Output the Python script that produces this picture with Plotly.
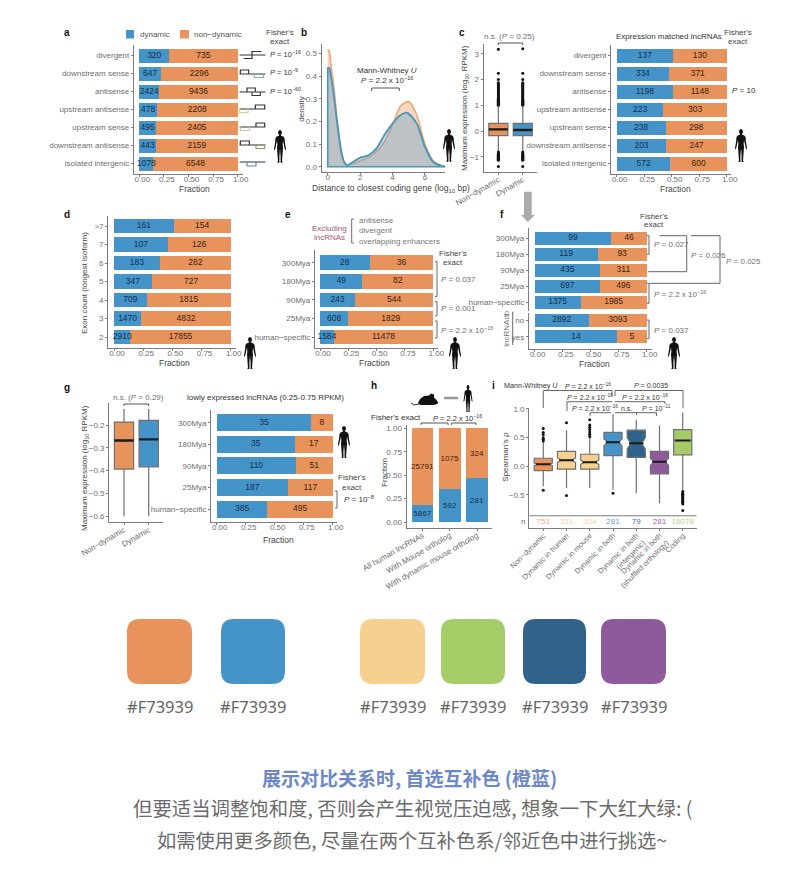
import plotly.graph_objects as go

W, H = 800, 870
ORANGE = "#E8935C"
BLUE = "#4494CA"
WHEAT = "#F6D08F"
GREEN = "#A6CC68"
NAVY = "#2F6389"
PURPLE = "#8F5A9C"
GREY = "#6e6e6e"
AXIS = "#7c7c7c"
SANS = "Liberation Sans, Arial, sans-serif"
CJK = "Noto Sans CJK SC, sans-serif"

# ---------------- data ----------------
a_cats = ["divergent", "downstream sense", "antisense", "upstream antisense", "upstream sense",
          "downstream antisense", "isolated intergenic"]
a_dyn = [320, 647, 2424, 478, 495, 443, 1078]
a_non = [735, 2296, 9436, 2208, 2405, 2159, 6548]

c_dyn = [137, 334, 1198, 223, 238, 203, 572]
c_non = [130, 371, 1148, 303, 298, 247, 600]

d_cats = [">7", "7", "6", "5", "4", "3", "2"]
d_dyn = [161, 107, 183, 347, 709, 1470, 2910]
d_non = [154, 126, 282, 727, 1815, 4832, 17855]

e_cats = ["300Mya", "180Mya", "90Mya", "25Mya", "human\u2212specific"]
e_dyn = [28, 49, 243, 608, 1584]
e_non = [36, 82, 544, 1829, 11478]

f_dyn = [99, 119, 435, 697, 1375]
f_non = [46, 93, 311, 496, 1985]
f2_cats = ["no", "yes"]
f2_dyn = [2892, 14]
f2_non = [3093, 5]

g_dyn = [35, 35, 110, 187, 385]
g_non = [8, 17, 51, 117, 495]

h_cats = ["All human lncRNAs", "With Mouse ortholog", "With dynamic mouse ortholog"]
h_dyn = [5867, 592, 281]
h_non = [25791, 1075, 324]

b_x_non = [0, 0.1, 0.2, 0.4, 0.6, 0.8, 1.0, 1.2, 1.5, 2, 2.5, 3, 3.5, 4, 4.5, 5, 5.5, 6, 6.5, 7, 7.3]
b_y_non = [0.518, 0.507, 0.45, 0.34, 0.19, 0.09, 0.025, 0.007, 0.012, 0.026, 0.04, 0.066, 0.11, 0.184,
           0.268, 0.287, 0.228, 0.10, 0.026, 0.006, 0.0]
b_x_dyn = [0, 0.1, 0.2, 0.4, 0.6, 0.8, 1.0, 1.2, 1.5, 2, 2.5, 3, 3.5, 4, 4.5, 4.9, 5.5, 6, 6.5, 7, 7.3]
b_y_dyn = [0.438, 0.434, 0.397, 0.30, 0.184, 0.08, 0.022, 0.006, 0.018, 0.04, 0.05, 0.08, 0.14, 0.19,
           0.228, 0.238, 0.19, 0.088, 0.022, 0.003, 0.0]

c_box_labels = ["Non\u2212dynamic", "Dynamic"]
c_q1 = [-0.18, -0.18]
c_med = [0.065, 0.04]
c_q3 = [0.30, 0.30]
c_lo = [-0.8, -0.8]
c_hi = [0.95, 0.95]
c_out_non = [3.18, 2.25, 2.0, 1.88, 1.84, 1.8, 1.76, 1.72, 1.68, 1.64, 1.6, 1.56, 1.52, 1.48, 1.44, 1.4, 1.36,
             1.32, 1.28, 1.24, 1.2, 1.16, 1.12, 1.08, 1.04, 1.0, -0.82, -0.86, -0.9, -0.94, -0.98, -1.02, -1.06,
             -1.1, -1.14, -1.38]
c_out_dyn = [3.2, 2.25, 2.0, 1.88, 1.84, 1.8, 1.76, 1.72, 1.68, 1.64, 1.6, 1.56, 1.52, 1.48, 1.44, 1.4, 1.36,
             1.32, 1.28, 1.24, 1.2, 1.16, 1.12, 1.08, 1.04, 1.0, -0.82, -0.86, -0.9, -0.94, -0.98, -1.02, -1.06,
             -1.1, -1.14, -1.38]

g_q1 = [-0.393, -0.383]
g_med = [-0.268, -0.263]
g_q3 = [-0.187, -0.18]
g_lo = [-0.6, -0.6]
g_hi = [-0.13, -0.13]

i_labels = ["Non\u2212dynamic", "Dynamic in human", "Dynamic in mouse", "Dynamic in both",
            "Dynamic in both<br>(intergenic)", "Dynamic in both<br>(shuffled orthology)", "Coding"]
i_q1 = [-0.075, -0.05, -0.05, 0.185, 0.157, -0.134, 0.2]
i_med = [0.035, 0.105, 0.07, 0.42, 0.40, 0.08, 0.45]
i_q3 = [0.14, 0.26, 0.21, 0.59, 0.63, 0.26, 0.64]
i_lo = [-0.35, -0.38, -0.38, -0.41, -0.47, -0.645, -0.41]
i_hi = [0.42, 0.63, 0.5, 0.91, 0.81, 0.71, 0.94]
i_notch = [0.02, 0.04, 0.035, 0.06, 0.1, 0.06, 0.01]
i_out = [[0.66, 0.59, 0.55, 0.5, 0.47, 0.44, -0.42],
         [0.76, -0.51],
         [0.81, 0.72, 0.68, 0.64, 0.6, 0.56, 0.52],
         [-0.47],
         [],
         [],
         [-0.44, -0.47, -0.49, -0.51, -0.53, -0.55, -0.57, -0.59, -0.61, -0.63, -0.66, -0.77]]
i_n = ["751", "311", "324", "281", "79", "281", "16078"]
i_ncolors = ["#E3AE88", "#EBD49D", "#EBD49D", "#5E9FC6", "#3F6E92", "#8F6A9C", "#B4D482"]

swatch_colors = [ORANGE, BLUE, WHEAT, GREEN, NAVY, PURPLE]
swatch_text = ["#F73939"] * 6

# ---------------- helpers ----------------
fig = go.Figure()
layout = {}
shapes = []
anns = []
counter = [0]


def px(x):
    return x / W


def py(y):
    return 1 - y / H


def axes(left, right, top, bottom):
    counter[0] += 1
    n = counter[0]
    suf = "" if n == 1 else str(n)
    base = dict(showline=True, linecolor=AXIS, linewidth=1.3, ticks="outside", ticklen=2, tickwidth=0.8, automargin=False,
                tickcolor=AXIS, showgrid=False, zeroline=False, tickfont=dict(family=SANS, size=8, color=GREY))
    layout["xaxis" + suf] = dict(base, domain=[px(left), px(right)], anchor="y" + suf, ticklabelstandoff=-3)
    layout["yaxis" + suf] = dict(base, domain=[py(bottom), py(top)], anchor="x" + suf)
    return "x" + suf, "y" + suf, "xaxis" + suf, "yaxis" + suf


def text(x, y, s, size=8, color=GREY, anchor="center", angle=0, family=SANS):
    anns.append(dict(xref="paper", yref="paper", x=px(x), y=py(y), text=s, showarrow=False, xanchor=anchor,
                     yanchor="middle", textangle=angle, font=dict(family=family, size=size, color=color)))


def poly(pts, color="#555555", width=1.0, closed=False, fill=None):
    d = "M " + " L ".join(f"{px(a):.5f},{py(b):.5f}" for a, b in pts)
    if closed:
        d += " Z"
    s = dict(type="path", xref="paper", yref="paper", path=d, line=dict(color=color, width=width))
    if fill:
        s["fillcolor"] = fill
        s["line"] = dict(width=0)
    shapes.append(s)


def rrect(x0, y0, x1, y1, r, color):
    d = (f"M {px(x0+r)},{py(y0)} L {px(x1-r)},{py(y0)} Q {px(x1)},{py(y0)} {px(x1)},{py(y0+r)} "
         f"L {px(x1)},{py(y1-r)} Q {px(x1)},{py(y1)} {px(x1-r)},{py(y1)} L {px(x0+r)},{py(y1)} "
         f"Q {px(x0)},{py(y1)} {px(x0)},{py(y1-r)} L {px(x0)},{py(y0+r)} Q {px(x0)},{py(y0)} {px(x0+r)},{py(y0)} Z")
    shapes.append(dict(type="path", xref="paper", yref="paper", path=d, fillcolor=color, line=dict(width=0)))


HALF = [(0.07, 0.15), (0.10, 0.175), (0.28, 0.20), (0.38, 0.25), (0.41, 0.38), (0.50, 0.58), (0.47, 0.63),
        (0.40, 0.58), (0.29, 0.40), (0.25, 0.33), (0.22, 0.45), (0.25, 0.55), (0.21, 0.75), (0.17, 0.95),
        (0.22, 1.0), (0.05, 1.0), (0.05, 0.8), (0.0, 0.58)]


def human(cx, top, bottom, width=12):
    h = bottom - top
    right = [(cx + u * width, top + v * h) for u, v in HALF]
    left = [(cx - u * width, top + v * h) for u, v in reversed(HALF)]
    poly(right + left[1:], closed=True, fill="#111111")
    rx, ry = 0.16 * width, 0.08 * h
    cy = top + ry
    shapes.append(dict(type="circle", xref="paper", yref="paper", x0=px(cx - rx), x1=px(cx + rx), y0=py(cy + ry),
                       y1=py(cy - ry), fillcolor="#111111", line=dict(width=0)))


def hbars(x0, x1, axl, axr, top, bottom, c0, step, cats, dyn, non, barpx, title_xy=None, shift=3):
    xa, ya, xk, yk = axes(axl, axr, top, bottom)
    unit = x1 - x0
    idx = list(range(len(cats)))
    w = barpx / abs(step)
    for vals, col in ((dyn, BLUE), (non, ORANGE)):
        fig.add_trace(go.Bar(y=idx, x=vals, orientation="h", width=w, marker=dict(color=col, line=dict(width=0)),
                             hoverinfo="skip", xaxis=xa, yaxis=ya))
    # counts sit on top of both bars so that wide numbers in narrow bars stay readable
    fr = [d / (d + n) for d, n in zip(dyn, non)]
    fig.add_trace(go.Scatter(x=[f / 2 for f in fr], y=idx, mode="text", text=[str(v) for v in dyn], cliponaxis=False,
                             textfont=dict(family=SANS, size=8.5, color="#14304a"), hoverinfo="skip", xaxis=xa, yaxis=ya))
    fig.add_trace(go.Scatter(x=[(1 + f) / 2 for f in fr], y=idx, mode="text", text=[str(v) for v in non], cliponaxis=False,
                             textfont=dict(family=SANS, size=8.5, color="#3a1f0e"), hoverinfo="skip", xaxis=xa, yaxis=ya))
    layout[xk].update(range=[(axl - x0) / unit, (axr - x0) / unit], tickvals=[0, 0.25, 0.5, 0.75, 1],
                      ticktext=["0.00", "0.25", "0.50", "0.75", "1.00"], ticklabelshift=shift, ticklabelstandoff=-5)
    layout[yk].update(range=[(bottom - c0) / step, (top - c0) / step], tickvals=idx, ticktext=cats)
    if title_xy:
        text(title_xy[0], title_xy[1], "Fraction", 8.5, "#444444")
    else:
        layout[xk].update(showline=False, ticks="", showticklabels=False)
    return xk, yk


def boxes(xa, ya, positions, q1, med, q3, lo, hi, colors, width, outliers=None, notch=None, mw=1.2):
    for k, pos in enumerate(positions):
        kw = {}
        if notch:
            kw = dict(notched=True, notchspan=[notch[k]], notchwidth=0.2)
        if outliers:
            kw.update(y=[outliers[k] or [med[k]]], boxpoints="outliers")
        else:
            kw.update(boxpoints=False)
        fig.add_trace(go.Box(x=[pos], q1=[q1[k]], median=[med[k]], q3=[q3[k]], lowerfence=[lo[k]], upperfence=[hi[k]],
                             width=width, whiskerwidth=0, fillcolor=colors[k], line=dict(color="#6f6f6f", width=1.2),
                             marker=dict(color="#111111", size=3, line=dict(width=0)), hoverinfo="skip",
                             xaxis=xa, yaxis=ya, **kw))
    mx, my = [], []
    for k, pos in enumerate(positions):
        half = width / 2 - (0.0 if not notch else width * 0.1)
        mx += [pos - half, pos + half, None]
        my += [med[k], med[k], None]
    fig.add_trace(go.Scatter(x=mx, y=my, mode="lines", line=dict(color="#1b1b1b", width=mw), hoverinfo="skip",
                             xaxis=xa, yaxis=ya))


def bracket_right(x, y0, y1, color="#666666"):
    poly([(x - 2, y0), (x, y0), (x, y1), (x - 2, y1)], color=color, width=1)


def pval(x, y, body, size=8, color=GREY):
    text(x, y, "<i>P</i> = " + body, size=size, color=color, anchor="left")


# ---------------- panel a ----------------
ROWS_A = dict(c0=55.5, step=18)
hbars(139.3, 237.7, 134, 243, 45, 174, cats=a_cats, dyn=a_dyn, non=a_non, barpx=14, title_xy=(194, 188.5), **ROWS_A)
text(66.7, 32.7, "<b>a</b>", 10, "#111111")
rrect(126, 30, 134, 38.5, 0, BLUE)
rrect(180, 30, 189, 38.5, 0, ORANGE)
text(137.7, 34, "dynamic", 8, "#555555", "left")
text(192, 34, "non\u2212dynamic", 8, "#555555", "left")
text(280, 32, "Fisher's", 8, "#444444")
text(280, 41.5, "exact", 8, "#444444")
step_rows = [
    (55, (35, 60, 64, 88), "#333333", "#333333"),
    (74, (25, 50, 67, 95), "#333333", "#7fb0b8"),
    (92, (45, 70, 60, 85), "#333333", "#333333"),
    (109, (70, 98, 22, 48), "#333333", "#c9d98a"),
    (127, (72, 98, 25, 52), "#333333", "#d8c08c"),
    (145, (25, 52, 72, 98), "#333333", "#8e9a55"),
    (162, None, "#333333", "#4f86b4"),
]
for y, seg, c1, c2 in step_rows:
    poly([(239.5, y), (265.5, y)], "#333333", 1)
    if seg:
        a0, a1, b0, b1 = seg
        if y == 55:
            poly([(232 + a0 / 3, y + 3.5), (232 + a1 / 3, y + 3.5), (232 + a1 / 3, y - 3.5), (232 + b1 / 3, y - 3.5)], c1, 1.2)
        else:
            poly([(232 + a0 / 3, y), (232 + a0 / 3, y - 4), (232 + a1 / 3, y - 4), (232 + a1 / 3, y)], c1, 1.2)
            poly([(232 + b0 / 3, y), (232 + b0 / 3, y + 3.5), (232 + b1 / 3, y + 3.5), (232 + b1 / 3, y)], c2, 1.1)
    else:
        poly([(247, y), (247, y + 4), (256, y + 4), (256, y)], c2, 1.1)
for y, s in ((53.5, "10<sup>\u221216</sup>"), (72, "10<sup>\u22129</sup>"), (91, "10<sup>\u221260</sup>")):
    pval(268, y, s, 7.5, "#333333")
human(280, 130, 162.7)

# ---------------- panel b ----------------
xa, ya, xk, yk = axes(321.7, 445, 44, 172)
fig.add_trace(go.Scatter(x=b_x_non, y=b_y_non, mode="lines", line=dict(color="#EBA873", width=1.6, shape="spline", smoothing=0.7),
                         fill="tozeroy", fillcolor="rgba(232,150,95,0.38)", hoverinfo="skip", xaxis=xa, yaxis=ya))
fig.add_trace(go.Scatter(x=b_x_dyn, y=b_y_dyn, mode="lines", line=dict(color="#4C97B8", width=1.9, shape="spline", smoothing=0.7),
                         fill="tozeroy", fillcolor="rgba(110,165,200,0.42)", hoverinfo="skip", xaxis=xa, yaxis=ya))
fig.add_trace(go.Scatter(x=[b_x_dyn[0], b_x_dyn[0], b_x_dyn[-1]], y=[b_y_dyn[0], 0, 0], mode="lines",
                         line=dict(color="#4C97B8", width=1.6), hoverinfo="skip", xaxis=xa, yaxis=ya))
layout[xk].update(range=[(321.7 - 327.7) / 16.2, (445 - 327.7) / 16.2], tickvals=[0, 2, 4, 6], ticklabelstandoff=-5)
layout[yk].update(range=[(166.7 - 172) / 226.7, (166.7 - 44) / 226.7], tickvals=[0, 0.1, 0.2, 0.3, 0.4, 0.5], tickformat=".1f")
text(391, 188.5, "Distance to closest coding gene (log<sub>10</sub> bp)", 8.5, "#444444")
text(301.7, 109, "density", 8, "#444444", angle=-90)
text(304, 32.7, "<b>b</b>", 10, "#111111")
text(386.7, 71, "Mann-Whitney <i>U</i>", 8, "#333333")
text(386.7, 80, "<i>P</i> = 2.2 x 10<sup>\u221216</sup>", 8, "#333333")
poly([(371.7, 91), (371.7, 88), (399.3, 88), (399.3, 91)], "#555555", 1)
human(449, 129, 161.7)

# ---------------- panel c ----------------
xa, ya, xk, yk = axes(483.7, 536.7, 44, 172)
boxes(xa, ya, [1, 2], c_q1, c_med, c_q3, c_lo, c_hi, [ORANGE, BLUE], 0.78, [c_out_non, c_out_dyn], mw=2.4)
layout[xk].update(range=[0.4, 2.57], tickvals=[1, 2], ticktext=c_box_labels, tickangle=-30)
layout[yk].update(range=[-1.595, 3.385], tickvals=[-1, 0, 1, 2, 3], ticktext=["\u22121", "0", "1", "2", "3"])
text(465, 108, "Maximum expression (log<sub>10</sub> RPKM)", 8, "#444444", angle=-90)
text(461.7, 32.7, "<b>c</b>", 10, "#111111")
text(510, 36.7, "n.s. (<i>P</i> = 0.25)", 8, GREY)
poly([(498.3, 45), (498.3, 43), (522.7, 43), (522.7, 45)], "#555555", 1)

hbars(616.7, 726.7, 611.3, 731, 45, 174, cats=a_cats, dyn=c_dyn, non=c_non, barpx=14, title_xy=(675, 188.5), **ROWS_A)
text(669, 36.7, "Expression matched lncRNAs", 8, "#333333")
text(738, 33, "Fisher's", 8, "#444444")
text(738, 42, "exact", 8, "#444444")
pval(730, 91, "10", 8, "#333333")
human(741, 129, 162)

# grey arrow
poly([(524, 191.7), (531.7, 191.7), (531.7, 215), (535, 215), (527.8, 222), (521, 215), (524, 215)], closed=True, fill="#ABABAB")

# ---------------- panel d ----------------
hbars(114, 230.7, 108.3, 235.5, 215.7, 348.3, 226, 18.5, d_cats, d_dyn, d_non, 14.5, title_xy=(174, 362.5))
text(85, 283, "Exon count (longest isoform)", 8, "#444444", angle=-90)
text(67, 214, "<b>d</b>", 10, "#111111")
human(250, 337, 369)

# ---------------- panel e ----------------
hbars(320, 433.3, 315, 438, 250, 348.3, 262.7, 18.6, e_cats, e_dyn, e_non, 14.5, title_xy=(374, 362.5))
text(288, 214, "<b>e</b>", 10, "#111111")
text(329, 228, "Excluding", 8, "#A4507A")
text(329, 237.5, "lncRNAs", 8, "#A4507A")
poly([(354, 219), (351.7, 219), (351.7, 243), (354, 243)], "#A4507A", 1)
for y, s in ((220, "antisense"), (230.5, "divergent"), (241, "overlapping enhancers")):
    text(357, y, s, 8, "#777777", "left")
text(453, 253, "Fisher's", 8, "#444444")
text(453, 262.5, "exact", 8, "#444444")
bracket_right(437, 261.7, 296.7)
bracket_right(437, 301.7, 315.7)
bracket_right(437, 321, 338)
pval(439.5, 279, "0.037")
pval(439.5, 309, "0.001")
pval(439.5, 330, "2.2 x 10<sup>\u221216</sup>")
human(455, 337, 369)

# ---------------- panel f ----------------
hbars(534.7, 646.7, 529, 651.7, 228.3, 310.5, 238.3, 16, e_cats, f_dyn, f_non, 12.8)
hbars(534.7, 646.7, 529, 651.7, 312.5, 349, 320.3, 16.4, f2_cats, f2_dyn, f2_non, 12.8, title_xy=(594, 364))
text(502, 214, "<b>f</b>", 10, "#111111")
text(653.7, 216, "Fisher's", 8, "#444444")
text(653.7, 225, "exact", 8, "#444444")
bracket_right(649, 235.7, 254.3)
pval(651.7, 245, "0.027")
poly([(659.3, 235.7), (686.7, 235.7), (686.7, 271.7), (648.3, 271.7)], "#666666", 1)
pval(688.5, 255, "0.026")
poly([(691, 235.7), (720, 235.7), (720, 283.3), (647, 283.3)], "#666666", 1)
pval(724, 261.7, "0.025")
poly([(649, 283.3), (649, 303.3), (647, 303.3)], "#666666", 1)
pval(651.7, 294.3, "2.2 x 10<sup>\u221216</sup>")
bracket_right(649, 320, 338.3)
pval(651.7, 330, "0.037")
text(506.7, 328, "lncRNAdb", 8, GREY, angle=-90)
poly([(512.7, 311.7), (512.7, 345)], "#666666", 1)
human(674, 337, 369)

# ---------------- panel g ----------------
xa, ya, xk, yk = axes(109.3, 163.3, 403.3, 522.3)
boxes(xa, ya, [1, 2], g_q1, g_med, g_q3, g_lo, g_hi, [ORANGE, BLUE], 0.78, mw=2.4)
layout[xk].update(range=[0.405, 2.59], tickvals=[1, 2], ticktext=c_box_labels, tickangle=-30)
layout[yk].update(range=[-0.626, -0.105], tickvals=[-0.6, -0.5, -0.4, -0.3, -0.2],
                  ticktext=["\u22120.6", "\u22120.5", "\u22120.4", "\u22120.3", "\u22120.2"])
text(85, 468, "Maximum expression (log<sub>10</sub> RPKM)", 8, "#444444", angle=-90)
text(67, 387, "<b>g</b>", 10, "#111111")
text(138, 397.7, "n.s. (<i>P</i> = 0.29)", 8, GREY)
poly([(124, 406), (124, 404), (148.7, 404), (148.7, 406)], "#555555", 1)

hbars(216.7, 332.7, 211.3, 336.7, 410, 522.3, 422.7, 21.6, e_cats, g_dyn, g_non, 17, title_xy=(278.7, 540))
text(265.7, 397.7, "lowly expressed lncRNAs (0.25-0.75 RPKM)", 8, "#333333")
human(344, 426, 458)
text(352, 477, "Fisher's", 8, "#444444")
text(352, 487, "exact", 8, "#444444")
bracket_right(337, 491, 508)
pval(341.7, 499, "10<sup>\u22128</sup>", 8, "#333333")

# ---------------- panel h ----------------
xa, ya, xk, yk = axes(406.7, 492, 425, 527.7)
for vals, col, tcol in ((h_dyn, BLUE, "#14304a"), (h_non, ORANGE, "#3a1f0e")):
    fig.add_trace(go.Bar(x=[0, 1, 2], y=vals, width=0.79, marker=dict(color=col, line=dict(width=0)),
                         text=[str(v) for v in vals], textposition="inside", insidetextanchor="middle", textangle=0,
                         constraintext="none", insidetextfont=dict(family=SANS, size=8, color=tcol), hoverinfo="skip",
                         xaxis=xa, yaxis=ya))
layout[xk].update(range=[-0.58, 2.55], tickvals=[0, 1, 2], ticktext=h_cats, tickangle=-30)
layout[yk].update(range=[(522 - 527.7) / 93.7, (522 - 425) / 93.7], tickvals=[0, 0.25, 0.5, 0.75, 1], tickformat=".2f")
text(384, 473, "Fraction", 8, "#444444", angle=-90)
text(374, 386, "<b>h</b>", 10, "#111111")
human(468, 385, 412, 9)
# mouse
M = [(418, 403), (420, 399), (424, 396), (429, 395.5), (431, 393.5), (434, 394.5), (434, 397.5), (436.5, 400), (438.5, 403),
     (436, 404.5), (433, 405), (423, 405), (420, 405)]
poly(M, closed=True, fill="#111111")
poly([(419, 404), (414, 405), (411, 403)], "#333333", 1)
poly([(444, 398), (458, 398)], "#999999", 2.5)
text(396, 418, "Fisher's exact", 8, "#333333")
pval(430.7, 418, "2.2 x 10<sup>\u221216</sup>", 7.5, "#333333")
poly([(421, 425), (421, 423), (448, 423), (448, 425)], "#555555", 1)
poly([(451.7, 425), (451.7, 423), (476, 423), (476, 425)], "#555555", 1)

# ---------------- panel i ----------------
xa, ya, xk, yk = axes(529.3, 696.7, 408, 528.3)
positions = [0, 1, 2, 3, 4, 5, 6]
i_colors = [ORANGE, WHEAT, WHEAT, BLUE, NAVY, PURPLE, GREEN]
boxes(xa, ya, positions, i_q1, i_med, i_q3, i_lo, i_hi, i_colors, 0.78, i_out, i_notch, mw=2.0)
fig.add_trace(go.Scatter(x=positions, y=[-0.967] * 7, mode="text", text=i_n, textfont=dict(family=SANS, size=8, color=i_ncolors),
                         hoverinfo="skip", xaxis=xa, yaxis=ya))
fig.add_trace(go.Scatter(x=[-0.6, 6.6], y=[-0.862, -0.862], mode="lines", line=dict(color=AXIS, width=1.1), hoverinfo="skip",
                         xaxis=xa, yaxis=ya))
layout[xk].update(range=[-0.6, 6.6], tickvals=positions, ticktext=i_labels, tickangle=-45,
                  tickfont=dict(family=SANS, size=7.5, color=GREY))
layout[yk].update(range=[-1.082, 1.017], tickvals=[-0.5, 0, 0.5, 1], ticktext=["\u22120.5", "0.0", "0.5", "1.0"])
text(506, 456.7, "Spearman's \u03c1", 8, "#444444", angle=-90)
text(493, 386, "<b>i</b>", 10, "#111111")
text(523, 521.7, "n", 8, GREY)
text(501.7, 386, "Mann-Whitney <i>U</i>", 7.2, "#333333", "left")
pval(563, 386, "2.2 x 10<sup>\u221216</sup>", 7, "#333333")
text(650.7, 386, "<i>P</i> = 0.0035", 7, "#333333")
pval(565, 397, "2.2 x 10<sup>\u221216</sup>", 7, "#333333")
pval(620, 397, "2.2 x 10<sup>\u221216</sup>", 7, "#333333")
pval(570, 408, "2.2 x 10<sup>\u221216</sup>", 7, "#333333")
text(626.7, 408, "n.s.", 7, "#333333")
pval(640, 408, "10<sup>\u221211</sup>", 7, "#333333")
poly([(543.3, 408), (543.3, 390.5), (612, 390.5), (612, 396)], "#666666", 1)
poly([(615, 396), (615, 390.5), (683, 390.5), (683, 408)], "#666666", 1)
poly([(567, 411), (567, 401.7), (612, 401.7)], "#666666", 1)
poly([(615, 401.7), (665, 401.7), (665, 404)], "#666666", 1)
poly([(590, 416), (590, 412.7), (611, 412.7)], "#666666", 1)
poly([(615, 412.7), (656.5, 412.7), (656.5, 416)], "#666666", 1)
poly([(636.5, 412.7), (636.5, 415)], "#666666", 1)

# ---------------- swatches + captions ----------------
swatch_x = [(127, 192), (221, 285), (360, 425), (441, 505), (523, 586), (601, 666)]
for (x0, x1), col, lab in zip(swatch_x, swatch_colors, swatch_text):
    rrect(x0, 619, x1, 684, 13, col)
    text((x0 + x1) / 2, 706, lab, 16.5, "#666666", family="Noto Sans, sans-serif")
text(410, 777, "<b>展示对比关系时, 首选互补色 (橙蓝)</b>", 19, "#6C88C8", family=CJK)
text(412, 807, "但要适当调整饱和度, 否则会产生视觉压迫感, 想象一下大红大绿: (", 19.4, "#6b6b6b", family=CJK)
text(412, 840, "如需使用更多颜色, 尽量在两个互补色系/邻近色中进行挑选~", 19.3, "#6b6b6b", family=CJK)

fig.update_layout(width=W, height=H, margin=dict(l=0, r=0, t=0, b=0), paper_bgcolor="white", plot_bgcolor="white",
                  showlegend=False, barmode="stack", barnorm="fraction", boxmode="overlay", shapes=shapes, annotations=anns,
                  **layout)
fig.write_html("out.html", config={"displayModeBar": False},
               post_script="document.body.style.margin='0';document.body.style.overflow='hidden';")
